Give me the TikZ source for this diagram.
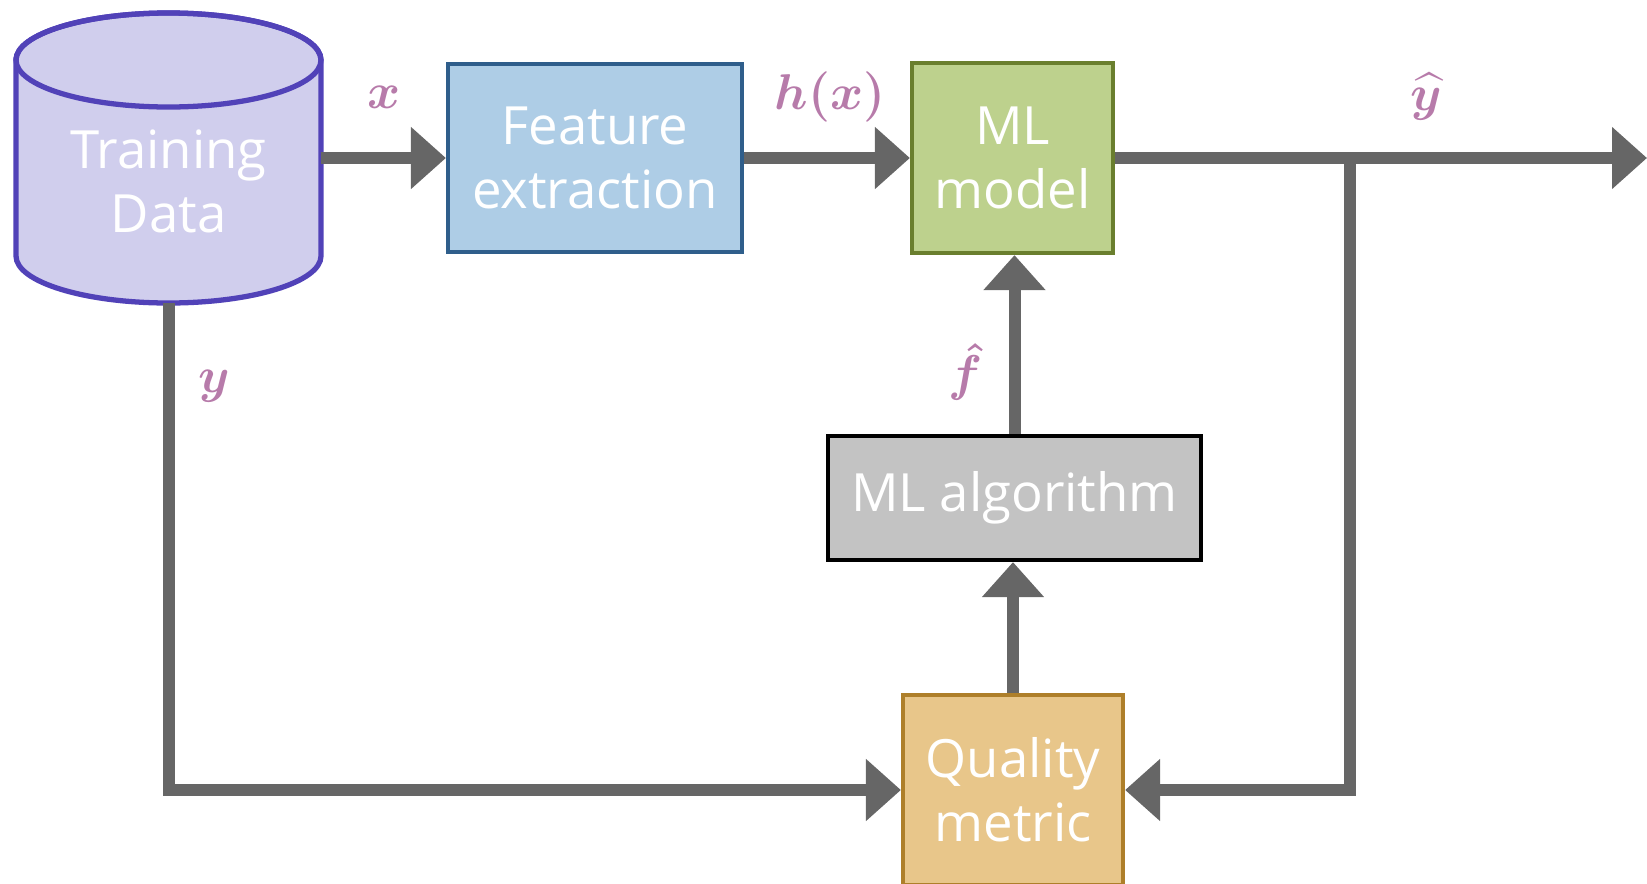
\documentclass[tikz,border=0pt]{standalone}
\usepackage{amsmath}
\usepackage{fontspec}
\setmainfont{Open Sans}
\usetikzlibrary{arrows.meta}
\definecolor{datafill}{HTML}{D0CEED}
\definecolor{dataedge}{HTML}{5142B8}
\definecolor{featfill}{HTML}{AECDE6}
\definecolor{featedge}{HTML}{2F5E8B}
\definecolor{modelfill}{HTML}{BDD18D}
\definecolor{modeledge}{HTML}{6A7F2E}
\definecolor{algofill}{HTML}{C3C3C3}
\definecolor{qualfill}{HTML}{E8C68A}
\definecolor{qualedge}{HTML}{AE7F2A}
\definecolor{arrowgray}{HTML}{666666}
\definecolor{labelpink}{HTML}{B77BAA}
\tikzset{
  box/.style={draw,line width=2.4pt,text=white,align=center,inner sep=0pt},
  flow/.style={->,draw=arrowgray,line width=0.24cm},
  lbl/.style={text=labelpink,inner sep=0pt,font=\fontsize{24.88}{30}\selectfont},
}
\newcommand{\biglbl}[1]{\scalebox{1.15}{$#1$}}
\begin{document}
\begin{tikzpicture}[x=0.02cm,y=-0.02cm,>={Triangle[length=0.7cm,width=1.2cm]},font=\fontsize{30}{36.5}\selectfont]
  \useasboundingbox (0,0) rectangle (1647,883);
  % data store
  \draw[line width=3pt,draw=dataedge,fill=datafill] (16,60) -- (16,256)
    arc[start angle=180,end angle=0,x radius=152.5,y radius=47] -- (321,60)
    arc[start angle=360,end angle=180,x radius=152.5,y radius=47] -- cycle;
  \draw[line width=3pt,draw=dataedge] (168.5,60) ellipse[x radius=152.5,y radius=47];
  \node[text=white,align=center,inner sep=0pt,minimum width=6.1cm,minimum height=4.88cm] (data) at (168.5,181) {Training\\Data};
  % blocks
  \node[box,fill=featfill,draw=featedge,minimum width=5.88cm,minimum height=3.76cm] (feat) at (595,158) {Feature\\extraction};
  \node[box,fill=modelfill,draw=modeledge,minimum width=4.02cm,minimum height=3.8cm] (model) at (1012.5,158) {ML\\model};
  \node[box,fill=algofill,draw=black,minimum width=7.46cm,minimum height=2.48cm] (algo) at (1014.5,498) {ML algorithm};
  \node[box,fill=qualfill,draw=qualedge,minimum width=4.4cm,minimum height=3.8cm] (qual) at (1013,790) {Quality\\metric};
  \coordinate (split) at (1350,158);
  \coordinate (out) at (1647,158);
  % connectors
  \draw[flow] (data.east |- feat.west) -- (feat.west);
  \draw[flow] (feat.east) -- (model.west);
  \draw[flow] (model.east) -- (out);
  \draw[flow] (split) |- (qual.east);
  \draw[flow] (data.south) |- (qual.west);
  \draw[flow] (qual.north) -- (qual.north |- algo.south);
  \draw[flow] (algo.north) -- (algo.north |- model.south);
  % labels
  \node[lbl] (xlbl) at (384,97) {\biglbl{\boldsymbol{x}}};
  \node[lbl] (hlbl) at (830,97) {\biglbl{\boldsymbol{h(x)}}};
  \node[lbl] (yhat) at (1426,97) {\biglbl{\boldsymbol{\widehat{y}}}};
  \node[lbl] (fhat) at (966,372) {\biglbl{\boldsymbol{\hat{f}}}};
  \node[lbl] (ylbl) at (214,386) {\biglbl{\boldsymbol{y}}};
\end{tikzpicture}
\end{document}
